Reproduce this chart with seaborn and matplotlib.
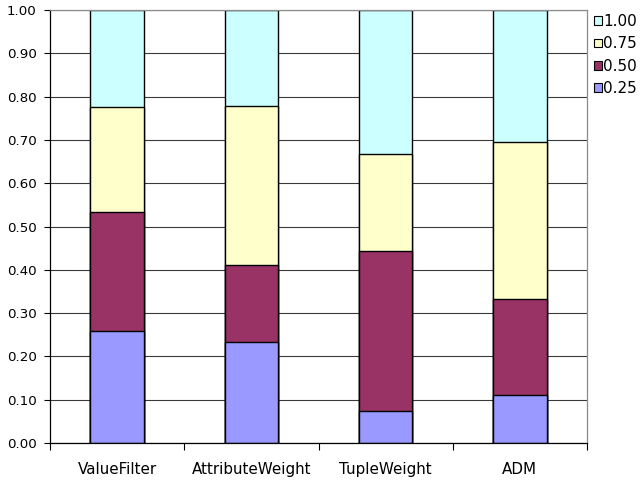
import numpy as np
import pandas as pd
import matplotlib
matplotlib.use("Agg")
import matplotlib.pyplot as plt
from matplotlib.patches import Patch
import seaborn as sns

# Share of each level per method (segments stacked bottom to top)
methods = ["ValueFilter", "AttributeWeight", "TupleWeight", "ADM"]
levels = ["0.25", "0.50", "0.75", "1.00"]
share_025 = [0.259, 0.233, 0.074, 0.111]
share_050 = [0.274, 0.178, 0.370, 0.222]
share_075 = [0.244, 0.367, 0.223, 0.361]
share_100 = [0.223, 0.222, 0.333, 0.306]
y_ticks = [0.0, 0.1, 0.2, 0.3, 0.4, 0.5, 0.6, 0.7, 0.8, 0.9, 1.0]

colors = {"0.25": "#9999FF", "0.50": "#993366", "0.75": "#FFFFCC", "1.00": "#CCFFFF"}

sns.set_theme(style="white")
plt.rcParams["font.family"] = ["DejaVu Sans"]
plt.rcParams["text.color"] = "black"
plt.rcParams["xtick.color"] = "black"
plt.rcParams["ytick.color"] = "black"

shares = np.array([share_025, share_050, share_075, share_100])
tops = np.cumsum(shares, axis=0)

fig = plt.figure(figsize=(6.42, 4.80), dpi=100)
ax = fig.add_axes([50 / 642, 1 - 443 / 480, 537 / 642, 433 / 480])

# horizontal grid lines under the bars
for v in y_ticks:
    ax.axhline(v, color="#3a3a3a", lw=0.8, zorder=0)

# draw cumulative bars from the top layer down so lower layers sit on top
for i in range(len(levels) - 1, -1, -1):
    df = pd.DataFrame({"method": methods, "top": tops[i]})
    sns.barplot(data=df, x="method", y="top", color=colors[levels[i]],
                saturation=1, width=0.4, edgecolor="black", linewidth=1.0,
                ax=ax, zorder=2)

ax.set_xlim(-0.5, len(methods) - 0.5)
ax.set_ylim(0, 1.0)
ax.set_xlabel("")
ax.set_ylabel("")

ax.set_yticks(y_ticks)
ax.set_yticklabels([f"{v:.2f}" for v in y_ticks], fontsize=9.6)
ax.tick_params(axis="y", which="major", direction="out", length=4,
               width=0.8, color="black", labelcolor="black", pad=5.5, left=True)

# ticks at category boundaries, labels centred under bars
ax.set_xticks(np.arange(-0.5, len(methods), 1.0))
ax.set_xticklabels([])
ax.set_xticks(np.arange(len(methods)), minor=True)
ax.set_xticklabels(methods, minor=True, fontsize=10.9)
ax.tick_params(axis="x", which="major", direction="out", length=5,
               width=0.8, color="black", bottom=True)
ax.tick_params(axis="x", which="minor", length=0, pad=13.5, labelcolor="black")

for side in ["left", "bottom"]:
    ax.spines[side].set_color("black")
    ax.spines[side].set_linewidth(0.9)
for side in ["top", "right"]:
    ax.spines[side].set_visible(True)
    ax.spines[side].set_color("#8c8c8c")
    ax.spines[side].set_linewidth(0.9)
ax.set_facecolor("white")

handles = [Patch(facecolor=colors[l], edgecolor="black", linewidth=0.8, label=l)
           for l in reversed(levels)]
fig.legend(handles=handles, loc="upper left", bbox_to_anchor=(594 / 642, 1 - 14 / 480),
           frameon=False, fontsize=11, handlelength=0.5, handleheight=0.5,
           handletextpad=0.1, labelspacing=0.48, borderpad=0.0, borderaxespad=0.0,
           labelcolor="black")

fig.savefig("out.png", dpi=100, facecolor="white")
